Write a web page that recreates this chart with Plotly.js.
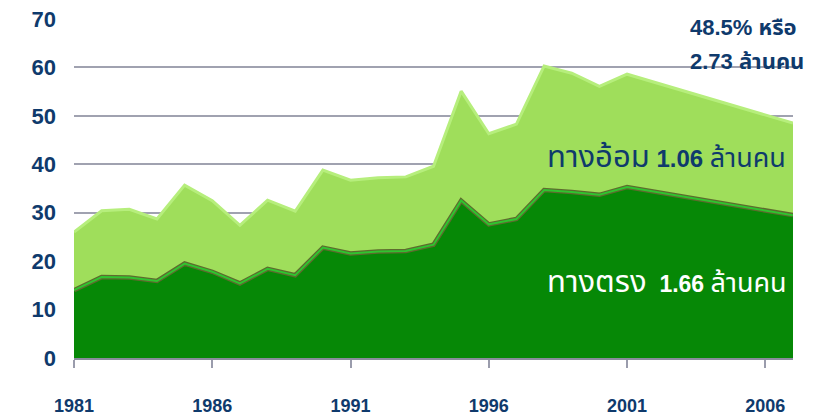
<!DOCTYPE html>
<html>
<head>
<meta charset="utf-8">
<script src="https://cdn.plot.ly/plotly-3.0.1.min.js"></script>
<style>html,body{margin:0;padding:0;background:#fff;}#chart{width:830px;height:419px;}</style>
</head>
<body>
<div id="chart"></div>
<script>
// Years and values
const years = [1981,1982,1983,1984,1985,1986,1987,1988,1989,1990,1991,1992,1993,1994,1995,1996,1997,1998,1999,2000,2001,2007];
// direct (ทางตรง) – lower, dark green
const directValues = [14.0,16.7,16.6,15.9,19.5,17.8,15.4,18.4,17.1,22.8,21.6,22.0,22.1,23.4,32.5,27.6,28.7,34.7,34.3,33.7,35.3,29.5];
// total (direct + indirect) – upper edge of light green
const totalValues  = [26.0,30.4,30.7,28.7,35.7,32.5,27.4,32.6,30.3,38.8,36.7,37.2,37.4,39.6,55.1,46.3,48.3,60.3,58.8,56.1,58.6,48.5];
const yTicks = [0,10,20,30,40,50,60,70];
const xTicks = [1981,1986,1991,1996,2001,2006];

const thai = "'Noto Sans Thai','Noto Sans Thai UI','Loma','Garuda','Tahoma','DejaVu Sans',sans-serif";
const navy = '#0f3a6c';
const latin = 'Liberation Sans, Arial, sans-serif';

const traces = [
  {x: years, y: directValues, type:'scatter', mode:'lines', fill:'tozeroy',
   fillcolor:'#068806', line:{color:'#068806', width:0}, hoverinfo:'skip'},
  {x: years, y: totalValues, type:'scatter', mode:'lines', fill:'tonexty',
   fillcolor:'#9fde5b', line:{color:'#b6ee7c', width:3}, hoverinfo:'skip'},
  // bevel edge on the boundary
  {x: years, y: directValues, type:'scatter', mode:'lines',
   line:{color:'#5e6b2e', width:4.5}, hoverinfo:'skip'},
  {x: years, y: directValues, type:'scatter', mode:'lines',
   line:{color:'#2fc42f', width:2}, hoverinfo:'skip'}
];

const layout = {
  width: 830, height: 419,
  margin: {l:74, r:37, t:19, b:61},
  paper_bgcolor:'#ffffff', plot_bgcolor:'#ffffff',
  showlegend:false,
  xaxis: {
    range:[1981,2007], tickvals:xTicks, ticktext:xTicks.map(String),
    ticks:'outside', ticklen:8, tickwidth:2, tickcolor:'#9a9cac',
    showgrid:false, zeroline:false, showline:true, linecolor:'#8a8c9c', linewidth:2,
    ticklabelstandoff:22,
    tickfont:{family:latin, size:18, color:navy, weight:'bold'}
  },
  yaxis: {
    range:[0,70], tickvals:yTicks, ticktext:yTicks.map(String),
    showgrid:true, gridcolor:'#a0a2b0', gridwidth:2, zeroline:false, showline:false,
    ticks:'', ticklabelstandoff:17,
    tickfont:{family:latin, size:22, color:navy, weight:'bold'}
  },
  annotations: [
    {xref:'paper', yref:'paper', x:0.854, y:0.972, xanchor:'left', yanchor:'middle', showarrow:false,
     text:'<b>48.5% <span style="font-family:'+thai+'">หรือ</span></b>',
     font:{family:latin, size:22, color:navy}},
    {xref:'paper', yref:'paper', x:0.854, y:0.872, xanchor:'left', yanchor:'middle', showarrow:false,
     text:'<b>2.73 <span style="font-family:'+thai+'">ล้านคน</span></b>',
     font:{family:latin, size:22, color:navy}},
    {xref:'paper', yref:'paper', x:0.655, y:0.59, xanchor:'left', yanchor:'middle', showarrow:false,
     text:'<span style="font-family:'+thai+';font-size:31px">ทางอ้อม</span> <b>1.06</b> <span style="font-family:'+thai+';font-size:27px">ล้านคน</span>',
     font:{family:latin, size:24, color:navy}},
    {xref:'paper', yref:'paper', x:0.655, y:0.224, xanchor:'left', yanchor:'middle', showarrow:false,
     text:'<span style="font-family:'+thai+';font-size:31px">ทางตรง</span>  <b>1.66</b> <span style="font-family:'+thai+';font-size:27px">ล้านคน</span>',
     font:{family:latin, size:23, color:'#ffffff'}}
  ]
};

Plotly.newPlot('chart', traces, layout, {staticPlot:true, displayModeBar:false});
</script>
</body>
</html>
